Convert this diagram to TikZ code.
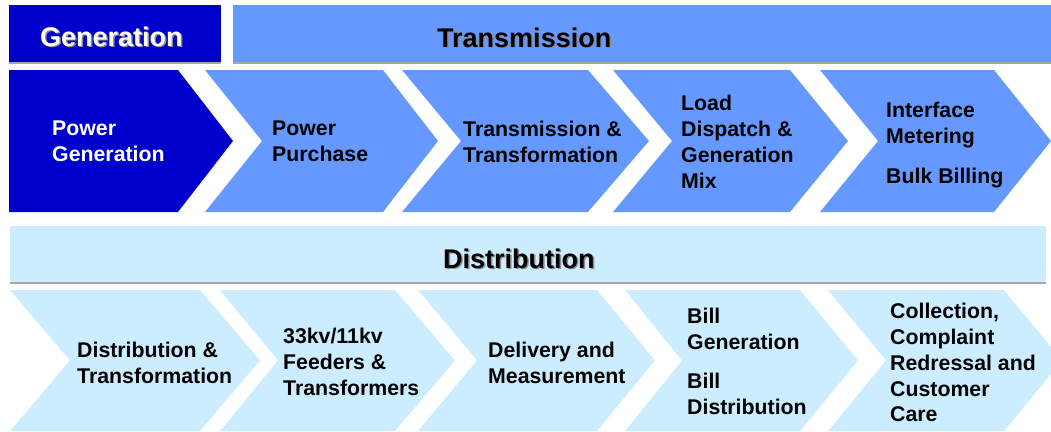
\documentclass[tikz,border=0pt]{standalone}
\usepackage{fontspec}
\setmainfont{Liberation Sans}
\definecolor{genblue}{HTML}{0000CC}
\definecolor{transblue}{HTML}{6699FF}
\definecolor{distblue}{HTML}{CCECFF}
\definecolor{rulegray}{HTML}{A6A6A6}
\definecolor{shadowgray}{HTML}{8C8C8C}

\begin{document}
\begin{tikzpicture}[x=1pt,y=-1pt,
  steptext/.style={anchor=north west, inner sep=0pt, align=left,
    font=\fontsize{21.3}{25.8}\selectfont\bfseries},
  headtext/.style={anchor=base west, inner sep=0pt,
    font=\fontsize{27}{30}\selectfont\bfseries},
  headshadow/.style={headtext, text=shadowgray},
  underline/.style={draw=rulegray, line width=1.8pt}]

\useasboundingbox (0,0) rectangle (1051,431);
\clip (0,0) rectangle (1051,431);

% ---- header bars ----
\fill[genblue]   (9,5)   rectangle (221,62);
\fill[transblue] (233,5) rectangle (1052,62);
\fill[distblue]  (10,226) rectangle (1046,282);
\draw[underline] (9,63)   -- (221,63);
\draw[underline] (233,63) -- (1052,63);
\draw[underline] (10,283) -- (1046,283);

\node[headshadow] (genhs)  at (41.5,47.5)  {Generation};
\node[headtext, text=white] (genh) at (40,46) {Generation};
\node[headshadow] (transhs) at (438.5,48.5) {Transmission};
\node[headtext] (transh) at (437,47) {Transmission};
\node[headshadow] (disths) at (444.5,269.5) {Distribution};
\node[headtext] (disth) at (443,268) {Distribution};

% ---- generation / transmission chain ----
\fill[genblue]   (9,70) -- (178,70) -- (233,141) -- (178,212) -- (9,212) -- cycle;
\fill[transblue] (205,70) -- (383,70) -- (438,141) -- (383,212) -- (205,212) -- (262,141) -- cycle;
\fill[transblue] (402,70) -- (588,70) -- (649,141) -- (588,212) -- (402,212) -- (461,141) -- cycle;
\fill[transblue] (613,70) -- (790,70) -- (848,141) -- (790,212) -- (613,212) -- (672,141) -- cycle;
\fill[transblue] (820,70) -- (994,70) -- (1051,141) -- (994,212) -- (820,212) -- (878,141) -- cycle;

\node[steptext, text=white] (powergen) at (52,121) {Power\\Generation};
\node[steptext] (purchase) at (272,121) {Power\\Purchase};
\node[steptext] (transform) at (463,121) {Transmission \&\\Transformation};
\node[steptext] (dispatch) at (681,95) {Load\\Dispatch \&\\Generation\\Mix};
\node[steptext] (metering) at (886,102) {Interface\\Metering\\[14pt]Bulk Billing};

% ---- distribution chain ----
\fill[distblue] (10,290) -- (200,290) -- (260,360.5) -- (200,431) -- (10,431) -- (70,360.5) -- cycle;
\fill[distblue] (220,290) -- (395,290) -- (455,360.5) -- (395,431) -- (220,431) -- (278,360.5) -- cycle;
\fill[distblue] (418,290) -- (597,290) -- (655,360.5) -- (597,431) -- (418,431) -- (477,360.5) -- cycle;
\fill[distblue] (625,290) -- (800,290) -- (858,360.5) -- (800,431) -- (625,431) -- (682,360.5) -- cycle;
\fill[distblue] (828,290) -- (1004,290) -- (1062,360.5) -- (1004,431) -- (828,431) -- (886,360.5) -- cycle;

\node[steptext] (disttrans) at (77,342) {Distribution \&\\Transformation};
\node[steptext] (feeders) at (283,328) {33kv/11kv\\Feeders \&\\Transformers};
\node[steptext] (delivery) at (488,342) {Delivery and\\Measurement};
\node[steptext] (billing) at (687,308) {Bill\\Generation\\[13pt]Bill\\Distribution};
\node[steptext] (care) at (890,303) {Collection,\\Complaint\\Redressal and\\Customer\\Care};

\end{tikzpicture}
\end{document}
